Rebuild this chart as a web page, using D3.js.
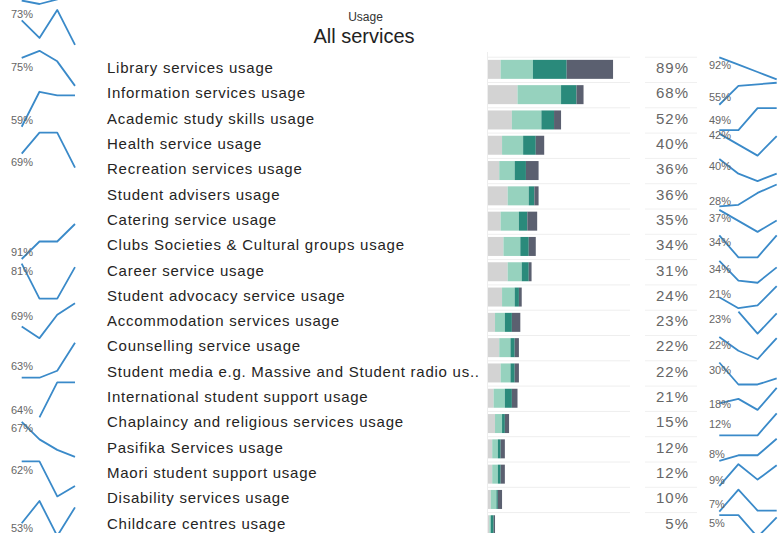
<!DOCTYPE html>
<html>
<head>
<meta charset="utf-8">
<script src="https://cdn.jsdelivr.net/npm/d3@7"></script>
<style>
    body { margin: 0; background: #fff; font-family: "Liberation Sans", Arial, sans-serif; }
</style>
</head>
<body>
<div id="chart"></div>
<script>
// Services and their overall usage
const services = [
    'Library services usage', 'Information services usage', 'Academic study skills usage',
    'Health service usage', 'Recreation services usage', 'Student advisers usage',
    'Catering service usage', 'Clubs Societies & Cultural groups usage', 'Career service usage',
    'Student advocacy service usage', 'Accommodation services usage', 'Counselling service usage',
    'Student media e.g. Massive and Student radio us..', 'International student support usage',
    'Chaplaincy and religious services usage', 'Pasifika Services usage',
    'Maori student support usage', 'Disability services usage', 'Childcare centres usage'
];
const totals = [89, 68, 52, 40, 36, 36, 35, 34, 31, 24, 23, 22, 22, 21, 15, 12, 12, 10, 5];

// Stacked parts of each bar (left to right)
const part1 = [9, 21, 17, 10, 8, 14, 9, 11, 14, 10, 5, 8, 9, 4, 5, 3, 3, 2, 1];
const part2 = [23, 31, 21, 15, 11, 15, 13, 12, 10, 9, 7, 8, 7, 8, 5, 4, 4, 4, 1];
const part3 = [24, 11, 9, 9, 8, 4, 6, 6, 5, 3, 5, 3, 3, 5, 2, 2, 2, 1, 2];
const part4 = [33, 5, 5, 6, 9, 3, 7, 5, 2, 2, 6, 3, 3, 4, 3, 3, 3, 3, 1];

// Right sparklines, one per row
const rightSpark = [
    [92, 88, 84, 80], [55, 61, 61.5, 62], [49, 49, 54, 54], [42, 37.5, 33, 41],
    [40, 36, 34, 36], [28, 28.5, 32, 34.5], [37, 34.5, 32, 34.6], [34, 29, 29, 34],
    [34, 29.5, 29, 32.5], [21, 19, 19.5, 23], [null, 23, 17, 22.5], [22, 19.5, 18, 21.8],
    [30, 26, 26, 27.1], [18, 19, 16.5, 21.5], [12, 12, 12, 16], [8, 9, 9, 12],
    [9, 13, 10.2, 12.8], [7, 11, 7.2, 7.2], [5, 5, 2, 4.7]
];
const rightSparkLabels = ['92%', '55%', '49%', '42%', '40%', '28%', '37%', '34%', '34%', '21%',
    '23%', '22%', '30%', '18%', '12%', '8%', '9%', '7%', '5%'];

// Left sparklines (separate list, partly scrolled; first one is above the view)
const leftSpark = [
    [71, 70, 71.3, 80], [73, 68, 76, 66], [75, 77, 74, 67], [59, 69, 68, 68],
    [69, 75, 75, 65], [91, 94, 94, 97], [81, 71, 71, 80], [69, 66, 72, 75],
    [63, 63, 65, 73], [null, 64, 72, 72], [67, 62, 59, 57], [62, 62, 52, 55],
    [53, 60, 49, 58]
];
const leftSparkLabels = ['', '73%', '75%', '59%', '69%', '91%', '81%', '69%', '63%', '64%',
    '67%', '62%', '53%'];

// label nudges (above / below first point)
const leftLabelDy = [-6, -6, 9, -7, 8, -7, 8, -10, -12, -7, 6, 9, 5];
const rightLabelDy = [8, -8, -10, 2, 7, -5, 8, 7, 8, -3, 8, 8, 8, 1, -11, -7, -6, -7, 8];

const width = 779;
const height = 533;
const colors = ['#d3d3d3', '#96d2be', '#2a8a7b', '#5b6070'];
const sparkColor = '#3a8ac9';

const svg = d3.select('#chart')
    .append('svg')
    .attr('width', width)
    .attr('height', height);

// Title
svg.append('text')
    .attr('x', 365.5)
    .attr('y', 21)
    .attr('text-anchor', 'middle')
    .attr('font-size', '12px')
    .attr('fill', '#333')
    .text('Usage');

svg.append('text')
    .attr('x', 364)
    .attr('y', 43.3)
    .attr('text-anchor', 'middle')
    .attr('font-size', '20px')
    .attr('fill', '#222')
    .text('All services');

// Scales
const y = d3.scaleBand()
    .domain(services)
    .range([56.7, 56.7 + services.length * 25.3]);

const x = d3.scaleLinear()
    .domain([0, 100])
    .range([488, 628.5]);

const barH = 19;
const textY = d => y(d) + y.bandwidth() / 2 - 1.5;

// Row separators
svg.append('g')
    .selectAll('line')
    .data(services)
    .enter()
    .append('line')
    .attr('x1', 487)
    .attr('x2', 630)
    .attr('y1', d => y(d) + 0.5)
    .attr('y2', d => y(d) + 0.5)
    .attr('stroke', '#eeeeee');

svg.append('g')
    .selectAll('line')
    .data(services)
    .enter()
    .append('line')
    .attr('x1', 645)
    .attr('x2', 697)
    .attr('y1', d => y(d) + 0.5)
    .attr('y2', d => y(d) + 0.5)
    .attr('stroke', '#f0f0f0');

svg.append('line')
    .attr('x1', 487.5)
    .attr('x2', 487.5)
    .attr('y1', 52)
    .attr('y2', height)
    .attr('stroke', '#eeeeee');

// Stacked bars
const table = services.map((s, i) => ({
    service: s, p1: part1[i], p2: part2[i], p3: part3[i], p4: part4[i]
}));
const stack = d3.stack().keys(['p1', 'p2', 'p3', 'p4'])(table);

svg.append('g')
    .selectAll('g')
    .data(stack)
    .enter()
    .append('g')
    .attr('fill', (d, i) => colors[i])
    .selectAll('rect')
    .data(d => d)
    .enter()
    .append('rect')
    .attr('x', d => x(d[0]))
    .attr('width', d => x(d[1]) - x(d[0]))
    .attr('y', d => y(d.data.service) + (y.bandwidth() - barH) / 2)
    .attr('height', barH);

// Row labels
svg.append('g')
    .selectAll('text')
    .data(services)
    .enter()
    .append('text')
    .attr('x', 107)
    .attr('y', textY)
    .attr('dy', '0.35em')
    .attr('font-size', '15px')
    .attr('letter-spacing', '0.75px')
    .attr('fill', '#252423')
    .text(d => d);

// Percent values
svg.append('g')
    .selectAll('text')
    .data(totals)
    .enter()
    .append('text')
    .attr('x', 689)
    .attr('y', (d, i) => textY(services[i]))
    .attr('dy', '0.35em')
    .attr('text-anchor', 'end')
    .attr('font-size', '15px')
    .attr('letter-spacing', '1px')
    .attr('fill', '#666')
    .text(d => d + '%');

// Sparklines
function drawSpark(g, values, xs, top, h, label, dy, labelX) {
    const ys = d3.scaleLinear()
        .domain(d3.extent(values.filter(v => v != null)))
        .range([top + h, top]);
    const line = d3.line()
        .defined(d => d != null)
        .x((d, i) => xs(i))
        .y(d => ys(d));
    g.append('path')
        .datum(values)
        .attr('fill', 'none')
        .attr('stroke', sparkColor)
        .attr('stroke-width', 1.8)
        .attr('stroke-linejoin', 'round')
        .attr('d', line);
    if (!label) return;
    const first = values.find(v => v != null);
    g.append('text')
        .attr('x', labelX)
        .attr('y', ys(first) + dy)
        .attr('dy', '0.35em')
        .attr('font-size', '11px')
        .attr('fill', '#666')
        .text(label);
}

const xRight = d3.scalePoint().domain(d3.range(4)).range([719.3, 776.7]);
const yRight = d3.scaleBand()
    .domain(services)
    .range([55.6, 55.6 + services.length * 25.43]);
const rightH = 22;
const gRight = svg.append('g');
rightSpark.forEach((vals, i) => {
    const top = yRight(services[i]) + (yRight.bandwidth() - rightH) / 2;
    drawSpark(gRight, vals, xRight, top, rightH, rightSparkLabels[i], rightLabelDy[i], 709);
});

const xLeft = d3.scalePoint().domain(d3.range(4)).range([21.7, 75]);
const leftTop = d3.scaleLinear()
    .domain([0, 4, 5, 12])
    .range([-31, 132.7, 224, 501]);
const leftH = 35;
const gLeft = svg.append('g');
leftSpark.forEach((vals, i) => {
    drawSpark(gLeft, vals, xLeft, leftTop(i), leftH, leftSparkLabels[i], leftLabelDy[i], 11);
});
</script>
</body>
</html>
